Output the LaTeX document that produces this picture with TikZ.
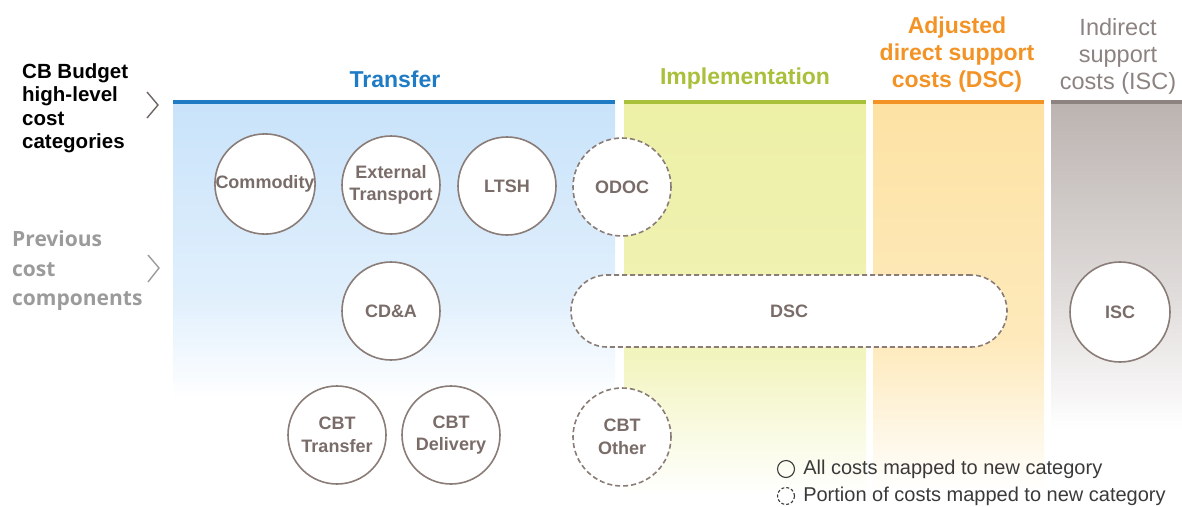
\documentclass[tikz,border=0pt]{standalone}
\usepackage{fontspec}
\setmainfont{Liberation Sans}
\newfontfamily\opensans{Open Sans}
\usepackage{tikz}
\usetikzlibrary{positioning}
\usepackage{xcolor}
\definecolor{TransferBlue}{HTML}{1E7BC4}
\definecolor{TransferFill}{HTML}{C9E3FA}
\definecolor{ImplGreen}{HTML}{A8C03A}
\definecolor{ImplFill}{HTML}{EDF0A6}
\definecolor{DscOrange}{HTML}{F39325}
\definecolor{DscFill}{HTML}{FDE2A4}
\definecolor{IscGrey}{HTML}{8C8381}
\definecolor{IscFill}{HTML}{BCB4B1}
\definecolor{RingBrown}{HTML}{8A7C77}
\definecolor{RingText}{HTML}{7A6D69}
\definecolor{ChevronGrey}{HTML}{6E6663}
\definecolor{OldGrey}{HTML}{9B9B9B}
\definecolor{LegendInk}{HTML}{3A3A3A}
\tikzset{%
  cost_ring/.style={%
    circle,%
    draw=RingBrown,%
    line width=1.6pt,%
    fill=white,%
    minimum size=98pt,%
    inner sep=0pt,%
    text=RingText,%
    font={\fontsize{18}{22.5}\selectfont\bfseries},%
    align=center%
  },
  part_ring/.style={%
    cost_ring,%
    dash pattern=on 5pt off 3pt%
  },
  part_pill/.style={%
    rectangle,%
    rounded corners=36pt,%
    draw=RingBrown,%
    line width=1.6pt,%
    dash pattern=on 5pt off 3pt,%
    fill=white,%
    minimum width=436pt,%
    minimum height=72pt,%
    text=RingText,%
    font={\fontsize{18}{22}\selectfont\bfseries}%
  },
  head_title/.style={%
    font={\fontsize{23}{27}\selectfont\bfseries},%
    align=center,%
    inner sep=0pt%
  },
  side_label/.style={%
    anchor=west,%
    align=left,%
    inner sep=0pt%
  },
  head_bar/.style={%
    line width=4pt%
  },
  chevron/.style={%
    draw=ChevronGrey,%
    line width=1.4pt,%
    line join=miter%
  },
  legend_ring/.style={%
    circle,%
    draw=LegendInk,%
    line width=1.1pt,%
    minimum size=17pt,%
    inner sep=0pt%
  },
  legend_text/.style={%
    text=LegendInk,%
    font={\fontsize{20}{22}\selectfont},%
    inner sep=0pt%
  },
}
\begin{document}
\begin{tikzpicture}[x=1pt, y=-1pt]
    \useasboundingbox (0,0) rectangle (1182,506);

    % column backgrounds
    \shade [top color=TransferFill, bottom color=TransferFill!55!white]
      (173,104) rectangle (615,300);
    \shade [top color=TransferFill!55!white, bottom color=white]
      (173,300) rectangle (615,400);
    \shade [top color=ImplFill, bottom color=ImplFill!85!white]
      (624,104) rectangle (866,330);
    \shade [top color=ImplFill!85!white, bottom color=white]
      (624,330) rectangle (866,495);
    \shade [top color=DscFill, bottom color=DscFill!75!white]
      (873,104) rectangle (1044,340);
    \shade [top color=DscFill!75!white, bottom color=white]
      (873,340) rectangle (1044,490);
    \shade [top color=IscFill, bottom color=IscFill!45!white]
      (1051,104) rectangle (1182,300);
    \shade [top color=IscFill!45!white, bottom color=white]
      (1051,300) rectangle (1182,430);

    % column bars
    \draw [head_bar, TransferBlue] (173,102) -- (615,102);
    \draw [head_bar, ImplGreen] (624,102) -- (866,102);
    \draw [head_bar, DscOrange] (873,102) -- (1044,102);
    \draw [head_bar, IscGrey] (1051,102) -- (1182,102);

    % column titles
    \node [head_title, text=TransferBlue] (TransferTitle) at (395,79) {Transfer};
    \node [head_title, text=ImplGreen] (ImplTitle) at (745,79) {Implementation};
    \node [head_title, text=DscOrange] (DscTitle) at (957,55)
      {Adjusted\\direct support\\costs (DSC)};
    \node [head_title, text=IscGrey, font={\fontsize{23.5}{27}\selectfont}]
      (IscTitle) at (1118,56) {Indirect\\support\\costs (ISC)};

    % row labels
    \node [side_label, font={\fontsize{20.5}{23.5}\selectfont\bfseries}]
      (NewRows) at (22,108) {CB Budget\\high-level\\cost\\categories};
    \node [side_label, text=OldGrey,
      font={\opensans\fontsize{21}{29.5}\selectfont\bfseries}]
      (OldRows) at (12,271) {Previous\\cost\\components};
    \draw [chevron] (147,92) -- (158,105) -- (147,118);
    \draw [chevron, draw=OldGrey] (148,255) -- (159,268) -- (148,282);

    % cost components
    \node [cost_ring] (Commodity) at (265,184) {Commodity};
    \node [cost_ring] (ExtTransport) at (391,185) {External\\Transport};
    \node [cost_ring] (Ltsh) at (507,186) {LTSH};
    \node [part_ring] (Odoc) at (622,187) {ODOC};
    \node [cost_ring] (Cda) at (391,311) {CD\&A};
    \node [part_pill] (Dsc) at (789,311) {DSC};
    \node [cost_ring, minimum size=100pt] (Isc) at (1120,312) {ISC};
    \node [cost_ring] (CbtTransfer) at (337,435) {CBT\\Transfer};
    \node [cost_ring] (CbtDelivery) at (451,435) {CBT\\Delivery};
    \node [part_ring] (CbtOther) at (622,437) {CBT\\Other};

    % legend
    \node [legend_ring] (AllKey) at (786,469) {};
    \node [legend_text, right=8pt of AllKey] (AllText)
      {All costs mapped to new category};
    \node [legend_ring, dash pattern=on 3pt off 2pt] (PartKey) at (786,496) {};
    \node [legend_text, right=8pt of PartKey] (PartText)
      {Portion of costs mapped to new category};
  \end{tikzpicture}
\end{document}
